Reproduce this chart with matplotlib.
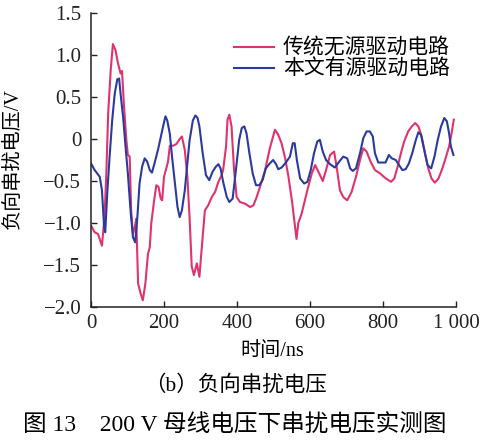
import matplotlib
matplotlib.use("Agg")
import matplotlib.pyplot as plt

plt.rcParams['font.family'] = ['Liberation Serif', 'Noto Sans CJK SC']
plt.rcParams['axes.unicode_minus'] = True

red_t = [0, 10, 19, 30, 37, 42, 47, 54, 60, 67, 74, 81, 85, 90, 97, 101, 106, 110, 115, 120,
         124, 129, 136, 142, 149, 156, 161, 165, 173, 179, 185, 191, 195, 200, 205, 211, 216,
         225, 234, 243, 249, 257, 264, 270, 276, 282, 290, 297, 303, 312, 321, 331, 340, 349,
         358, 362, 370, 374, 379, 385, 392, 399, 408, 422, 436, 445, 454, 463, 477, 490, 504,
         513, 522, 532, 541, 551, 563, 568, 577, 586, 595, 605, 614, 623, 635, 644, 655, 666,
         673, 682, 691, 702, 714, 726, 737, 746, 755, 766, 778, 792, 805, 822, 831, 840, 849,
         858, 869, 879, 888, 897, 906, 915, 924, 933, 942, 952, 961, 970, 981, 988, 994]
red_v = [-1.03, -1.11, -1.13, -1.27, -0.93, -0.41, 0.30, 0.82, 1.13, 1.06, 0.90, 0.78, 0.81,
         0.42, -0.02, -0.19, -0.21, -0.85, -1.13, -1.05, -0.95, -1.72, -1.84, -1.92, -1.72,
         -1.37, -1.29, -1.01, -0.73, -0.55, -0.57, -0.71, -0.73, -0.45, -0.37, -0.27, -0.08,
         -0.08, -0.06, 0.0, 0.03, -0.13, -0.45, -0.93, -1.52, -1.62, -1.48, -1.64, -1.32,
         -0.85, -0.79, -0.69, -0.63, -0.51, -0.43, -0.37, -0.09, 0.23, 0.29, 0.15, -0.37,
         -0.69, -0.75, -0.77, -0.81, -0.79, -0.69, -0.57, -0.37, -0.11, 0.11, 0.05, -0.05,
         -0.23, -0.45, -0.75, -1.19, -1.0, -0.89, -0.73, -0.57, -0.41, -0.31, -0.39, -0.50,
         -0.37, -0.19, -0.15, -0.33, -0.61, -0.69, -0.73, -0.63, -0.45, -0.25, -0.11, -0.15,
         -0.27, -0.37, -0.41, -0.46, -0.51, -0.47, -0.33, -0.17, -0.03, 0.09, 0.15, 0.19,
         0.15, 0.03, -0.17, -0.35, -0.47, -0.52, -0.47, -0.37, -0.25, -0.09, 0.07, 0.23]

blue_t = [0, 10, 24, 30, 36, 39, 45, 51, 58, 65, 72, 77, 81, 88, 94, 101, 109, 115, 121, 127,
          133, 140, 147, 154, 161, 167, 174, 184, 191, 197, 204, 209, 216, 222, 229, 237, 243,
          249, 257, 264, 270, 279, 286, 292, 297, 306, 315, 324, 333, 342, 349, 355, 362, 372,
          379, 388, 397, 406, 413, 420, 426, 434, 443, 452, 461, 470, 479, 490, 499, 507, 513,
          522, 534, 545, 553, 558, 564, 573, 584, 593, 602, 611, 620, 627, 635, 644, 655, 668,
          680, 691, 702, 710, 717, 726, 737, 746, 755, 764, 772, 778, 787, 796, 807, 816, 824,
          835, 844, 853, 862, 871, 880, 890, 897, 904, 913, 922, 932, 941, 950, 959, 968, 975,
          981, 986, 993]
blue_v = [-0.29, -0.37, -0.45, -0.61, -1.05, -1.11, -0.61, -0.21, 0.22, 0.54, 0.71, 0.72,
          0.54, 0.26, -0.06, -0.41, -0.89, -1.17, -1.23, -0.93, -0.53, -0.33, -0.23, -0.27,
          -0.37, -0.40, -0.29, -0.12, 0.02, 0.14, 0.27, 0.22, 0.06, -0.21, -0.49, -0.81,
          -0.93, -0.85, -0.61, -0.29, -0.02, 0.22, 0.28, 0.25, 0.15, -0.17, -0.43, -0.49,
          -0.39, -0.33, -0.30, -0.35, -0.51, -0.69, -0.75, -0.71, -0.37, -0.01, 0.13, 0.15,
          0.07, -0.17, -0.41, -0.55, -0.55, -0.49, -0.35, -0.29, -0.25, -0.30, -0.36, -0.34,
          -0.28, -0.21, -0.05, -0.05, -0.25, -0.47, -0.53, -0.51, -0.37, -0.17, -0.03, -0.01,
          -0.15, -0.25, -0.30, -0.34, -0.27, -0.21, -0.23, -0.35, -0.38, -0.35, -0.17, 0.01,
          0.09, 0.09, 0.03, -0.17, -0.28, -0.28, -0.28, -0.19, -0.23, -0.25, -0.31, -0.37,
          -0.36, -0.29, -0.17, -0.01, 0.08, 0.05, -0.13, -0.31, -0.35, -0.21, -0.01, 0.15,
          0.25, 0.21, 0.07, -0.09, -0.19]

series_labels = ['传统无源驱动电路', '本文有源驱动电路']
x_ticks = [0, 200, 400, 600, 800, 1000]
x_tick_labels = ['0', '200', '400', '600', '800', '1 000']
y_ticks = [-2.0, -1.5, -1.0, -0.5, 0.0, 0.5, 1.0, 1.5]
y_tick_labels = ['−2.0', '−1.5', '−1.0', '−0.5', '0', '0.5', '1.0', '1.5']

fig = plt.figure(figsize=(4.82, 4.41), dpi=100)
ax = fig.add_axes([91/482, 1 - 307/441, (456-91)/482, (307-13)/441])

ax.plot(red_t, red_v, color='#e0336e', lw=1.5, label=series_labels[0])
ax.plot(blue_t, blue_v, color='#2b3a9e', lw=1.5, label=series_labels[1])

ax.set_xlim(0, 1000)
ax.set_ylim(-2.0, 1.5)
ax.set_xticks(x_ticks)
ax.set_xticklabels(x_tick_labels)
ax.set_yticks(y_ticks)
ax.set_yticklabels(y_tick_labels)
ax.tick_params(direction='in', length=4, width=1.0, labelsize=15, colors='#222222')
ax.tick_params(axis='y', pad=7)
ax.tick_params(axis='x', pad=5)
for s in ['top', 'right']:
    ax.spines[s].set_visible(False)
for s in ['left', 'bottom']:
    ax.spines[s].set_linewidth(1.1)
    ax.spines[s].set_color('#222222')

ax.set_xlabel('时间/ns', fontsize=14.5)
ax.xaxis.set_label_coords((272-91)/365, -(352-307)/294)
ax.xaxis.label.set_va('center')
ax.set_ylabel('负向串扰电压/V', fontsize=14.5)
ax.yaxis.set_label_coords((13-91)/365, 1 - (159-13)/294)
ax.yaxis.label.set_va('center')

leg = ax.legend(loc='upper right', frameon=False, fontsize=15, handlelength=1.9,
                handletextpad=0.45, borderaxespad=0.0, borderpad=0.0, labelspacing=0.05,
                bbox_to_anchor=(1 - 6/365, 1 - 26/294))

fig.text(235/482, 1 - 386/441, '（b）负向串扰电压', ha='center', va='center', fontsize=15.5)
fig.text(235/482, 1 - 425/441, '图 13　200 V 母线电压下串扰电压实测图', ha='center', va='center',
         fontsize=17)

fig.savefig('out.png', dpi=100)
